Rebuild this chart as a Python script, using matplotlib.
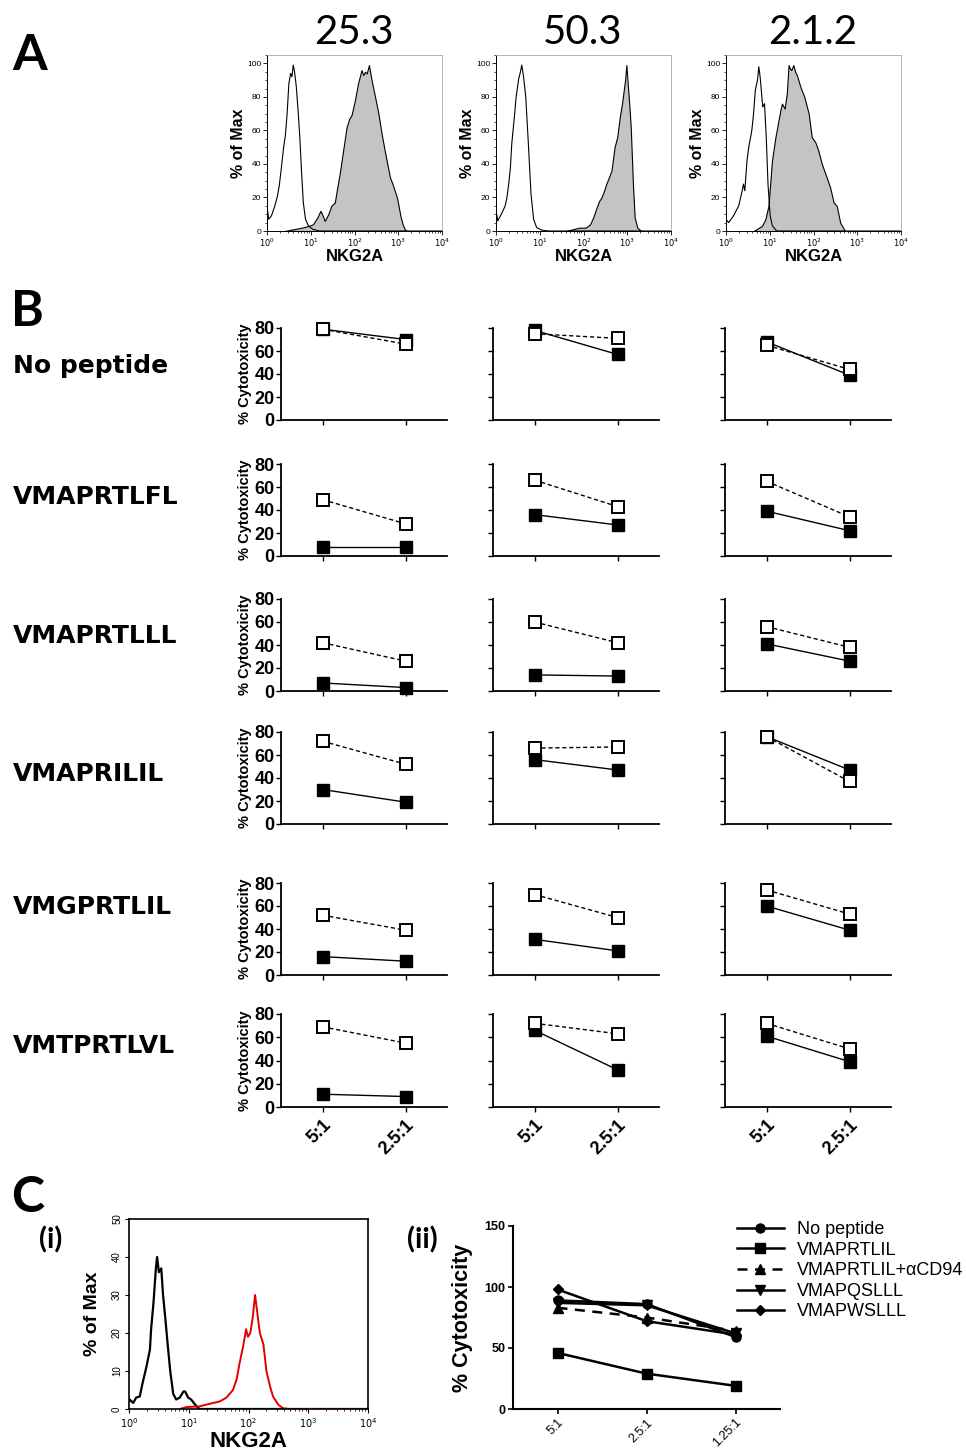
import numpy as np
import matplotlib.pyplot as plt
from matplotlib.ticker import LogLocator, NullFormatter, MultipleLocator

plt.rcParams['font.family'] = ['Liberation Sans', 'DejaVu Sans']

W, H = 966, 1450
fig = plt.figure(figsize=(9.66, 14.5), dpi=100)


def box(l, r, t, b):
    return fig.add_axes([l / W, 1 - b / H, (r - l) / W, (b - t) / H])


# ---------------- panel A: NKG2A histograms (log10 x, % of max) ----------------
a_titles = ['25.3', '50.3', '2.1.2']

a1_open_lx = [0.0, 0.005, 0.04, 0.1, 0.18, 0.24, 0.28, 0.33, 0.38, 0.42, 0.46, 0.5, 0.54, 0.57, 0.6,
              0.63, 0.67, 0.71, 0.75, 0.79, 0.83, 0.88, 0.95, 1.05, 1.2, 4.0]
a1_open_y = [22, 14, 7, 9, 15, 21, 27, 38, 50, 57, 70, 88, 94, 92, 99, 95, 86, 72, 56, 35, 17, 7, 3, 1, 0, 0]
a1_fill_lx = [0.4, 0.6, 0.8, 0.95, 1.05, 1.15, 1.22, 1.26, 1.32, 1.4, 1.47, 1.55, 1.6, 1.66, 1.74, 1.82,
              1.88, 1.93, 2.01, 2.08, 2.16, 2.2, 2.24, 2.28, 2.33, 2.39, 2.47, 2.54, 2.62, 2.69, 2.75,
              2.81, 2.87, 2.92, 2.97, 3.0, 3.05, 3.1, 3.15, 3.2]
a1_fill_y = [0, 1, 2, 3, 4, 8, 12, 10, 6, 10, 15, 17, 25, 34, 48, 62, 67, 69, 78, 88, 96, 93, 95, 94, 99,
             90, 80, 71, 58, 48, 40, 32, 28, 24, 20, 16, 9, 4, 1, 0]

a2_open_lx = [0.0, 0.005, 0.04, 0.1, 0.14, 0.21, 0.25, 0.29, 0.33, 0.36, 0.42, 0.46, 0.52, 0.55, 0.59,
              0.63, 0.68, 0.74, 0.8, 0.86, 0.93, 1.05, 1.2, 4.0]
a2_open_y = [20, 12, 6, 9, 11, 15, 20, 28, 38, 52, 68, 80, 91, 94, 99, 92, 80, 52, 22, 7, 2, 0.5, 0, 0]
a2_fill_lx = [1.6, 1.75, 1.9, 2.05, 2.15, 2.22, 2.3, 2.36, 2.41, 2.47, 2.52, 2.58, 2.64, 2.68, 2.71,
              2.77, 2.83, 2.88, 2.92, 2.95, 2.98, 3.01, 3.05, 3.08, 3.13, 3.17, 3.23, 3.32]
a2_fill_y = [0, 1, 2, 2, 4, 8, 14, 18, 20, 24, 28, 32, 36, 44, 50, 56, 68, 76, 84, 90, 99, 88, 74, 62,
             28, 8, 2, 0]

a3_open_lx = [0.0, 0.06, 0.17, 0.29, 0.37, 0.4, 0.43, 0.48, 0.52, 0.59, 0.63, 0.67, 0.72, 0.75, 0.78,
              0.8, 0.84, 0.88, 0.92, 0.96, 1.01, 1.06, 1.16, 4.0]
a3_open_y = [7, 5, 9, 15, 24, 28, 24, 42, 50, 60, 70, 84, 90, 98, 92, 86, 74, 76, 56, 28, 9, 3, 0, 0]
a3_fill_lx = [0.63, 0.82, 0.9, 0.97, 1.01, 1.05, 1.13, 1.2, 1.25, 1.28, 1.34, 1.39, 1.43, 1.46, 1.49,
              1.54, 1.58, 1.62, 1.7, 1.79, 1.89, 1.96, 2.04, 2.11, 2.19, 2.3, 2.38, 2.46, 2.53, 2.57,
              2.61, 2.72]
a3_fill_y = [0, 3, 7, 15, 28, 42, 56, 66, 73, 76, 73, 82, 99, 97, 96, 99, 95, 93, 86, 80, 70, 56, 53,
             48, 40, 32, 26, 17, 15, 10, 5, 0]

a_curves = [(a1_open_lx, a1_open_y, a1_fill_lx, a1_fill_y),
            (a2_open_lx, a2_open_y, a2_fill_lx, a2_fill_y),
            (a3_open_lx, a3_open_y, a3_fill_lx, a3_fill_y)]
a_lefts = [267, 496, 726]

for l, title, (olx, oy, flx, fy) in zip(a_lefts, a_titles, a_curves):
    ax = box(l, l + 175, 55, 231)
    ax.fill_between(10 ** np.array(flx), fy, color='#c4c4c4', edgecolor='black', lw=0.8)
    ax.plot(10 ** np.array(olx), oy, color='black', lw=0.8)
    ax.set_xscale('log')
    ax.set_xlim(1, 1e4)
    ax.set_ylim(0, 105)
    ax.set_xticks([1, 10, 100, 1000, 10000])
    ax.set_xticklabels(['$10^{0}$', '$10^{1}$', '$10^{2}$', '$10^{3}$', '$10^{4}$'])
    ax.xaxis.set_minor_locator(LogLocator(base=10, subs=np.arange(2, 10)))
    ax.xaxis.set_minor_formatter(NullFormatter())
    ax.set_yticks([0, 20, 40, 60, 80, 100])
    ax.yaxis.set_minor_locator(MultipleLocator(5))
    ax.tick_params(which='major', direction='out', length=3, width=0.6, labelsize=6, pad=1)
    ax.tick_params(which='minor', direction='out', length=1.5, width=0.5)
    for s in ['top', 'right']:
        ax.spines[s].set_color('#a8a8a8')
        ax.spines[s].set_linewidth(0.6)
    for s in ['left', 'bottom']:
        ax.spines[s].set_linewidth(0.7)
    ax.set_ylabel('% of Max', fontweight='bold', fontsize=11.5, labelpad=1)
    ax.set_xlabel('NKG2A', fontweight='bold', fontsize=12, labelpad=0)
    fig.text((l + 87) / W, 1 - 32 / H, title, fontsize=29, family='Lato', ha='center', va='center')

# ---------------- panel B: cytotoxicity vs E:T ratio ----------------
b_ratios = ['5:1', '2.5:1']
b_peptides = ['No peptide', 'VMAPRTLFL', 'VMAPRTLLL', 'VMAPRILIL', 'VMGPRTLIL', 'VMTPRTLVL']
# [row][column] -> values at 5:1, 2.5:1
b_solid = [
    [[79, 70], [78, 57], [68, 39]],
    [[8, 8], [36, 27], [39, 22]],
    [[7, 3], [14, 13], [41, 26]],
    [[30, 19], [56, 47], [76, 47]],
    [[16, 12], [31, 21], [60, 39]],
    [[11, 9], [66, 32], [61, 39]],
]
b_open = [
    [[79, 66], [75, 71], [65, 44]],
    [[49, 28], [66, 43], [65, 34]],
    [[42, 26], [60, 42], [56, 38]],
    [[72, 52], [66, 67], [76, 37]],
    [[52, 39], [70, 50], [74, 53]],
    [[69, 55], [72, 63], [72, 50]],
]

b_rows = [(328, 420), (464, 556), (599, 691), (732, 824), (883, 975), (1014, 1107)]
b_lefts = [281, 493, 725]
b_label_y = [366, 497, 636, 774, 907, 1046]

for r, (t, b) in enumerate(b_rows):
    fig.text(13 / W, 1 - b_label_y[r] / H, b_peptides[r], fontsize=18, fontweight='bold',
             family='DejaVu Sans', va='center')
    for c, l in enumerate(b_lefts):
        ax = box(l, l + 166, t, b)
        xs = np.arange(len(b_ratios))
        ax.plot(xs, b_solid[r][c], color='black', lw=1.0, marker='s', ms=8.5,
                mfc='black', mec='black', clip_on=False, zorder=3)
        ax.plot(xs, b_open[r][c], color='black', lw=1.0, ls=(0, (3, 2)), marker='s', ms=8.5,
                mfc='white', mec='black', mew=1.4, clip_on=False, zorder=4)
        ax.set_xlim(-0.5, 1.5)
        ax.set_ylim(0, 80)
        ax.set_yticks([0, 20, 40, 60, 80])
        ax.set_xticks(xs)
        for s in ['top', 'right']:
            ax.spines[s].set_visible(False)
        for s in ['left', 'bottom']:
            ax.spines[s].set_linewidth(1.3)
        ax.tick_params(direction='out', length=3.5, width=1.0)
        if c == 0:
            ax.set_yticklabels(['0', '20', '40', '60', '80'], fontsize=13, fontweight='bold')
            ax.tick_params(axis='y', pad=1)
            ax.set_ylabel('% Cytotoxicity', fontsize=10.5, fontweight='bold', labelpad=2)
        else:
            ax.set_yticklabels([])
        if r == len(b_rows) - 1:
            ax.set_xticklabels(b_ratios, rotation=45, ha='right', rotation_mode='anchor',
                               fontsize=13, fontweight='bold')
        else:
            ax.set_xticklabels([])

# ---------------- panel C(i): histogram ----------------
ci_black_lx = [0.0, 0.01, 0.07, 0.12, 0.18, 0.23, 0.29, 0.35, 0.37, 0.41, 0.45, 0.47, 0.5, 0.54, 0.57,
               0.61, 0.65, 0.69, 0.74, 0.79, 0.85, 0.91, 0.94, 0.99, 1.04, 1.13, 1.18, 4.0]
ci_black_y = [2, 2.5, 1.6, 3, 3.3, 7, 11, 15.6, 21, 28, 37, 40, 36, 37, 30, 23.5, 16.5, 10, 4, 2.5, 3,
              4.6, 4.6, 3, 2.5, 0.7, 0, 0]
ci_red_lx = [0.85, 0.96, 1.18, 1.41, 1.52, 1.63, 1.74, 1.8, 1.85, 1.91, 1.96, 1.99, 2.03, 2.07, 2.11,
             2.15, 2.19, 2.25, 2.3, 2.36, 2.41, 2.5, 2.58, 2.69, 3.95]
ci_red_y = [0, 0.5, 0.7, 1.6, 2, 3, 5, 7.7, 12, 16.5, 21, 19, 20, 24, 30, 25, 20, 17, 10, 6, 3.3, 1.1,
            0.2, 0, 0]

ax = box(129, 368, 1219, 1409)
ax.plot(10 ** np.array(ci_black_lx), ci_black_y, color='black', lw=1.6)
ax.plot(10 ** np.array(ci_red_lx), ci_red_y, color='#e00000', lw=1.4)
ax.set_xscale('log')
ax.set_xlim(1, 1e4)
ax.set_ylim(0, 50)
ax.set_xticks([1, 10, 100, 1000, 10000])
ax.set_xticklabels(['$10^{0}$', '$10^{1}$', '$10^{2}$', '$10^{3}$', '$10^{4}$'])
ax.xaxis.set_minor_locator(LogLocator(base=10, subs=np.arange(2, 10)))
ax.xaxis.set_minor_formatter(NullFormatter())
ax.set_yticks([0, 10, 20, 30, 40, 50])
ax.set_yticklabels(['0', '10', '20', '30', '40', '50'], rotation=90, va='center')
ax.tick_params(which='major', direction='out', length=3, width=0.8, labelsize=7, pad=2)
ax.tick_params(which='minor', direction='out', length=1.5, width=0.6)
for s in ax.spines.values():
    s.set_linewidth(1.2)
ax.set_ylabel('% of Max', fontweight='bold', fontsize=14, labelpad=8)
ax.set_xlabel('NKG2A', fontweight='bold', fontsize=16, labelpad=1)

# ---------------- panel C(ii): cytotoxicity ----------------
c_ratios = ['5:1', '2.5:1', '1.25:1']
c_no_peptide = [89, 86, 59]
c_vmaprtlil = [46, 29, 19]
c_vmaprtlil_cd94 = [83, 75, 64]
c_vmapqslll = [87, 85, 62]
c_vmapwslll = [98, 72, 61]

ax = box(513, 780, 1226, 1409)
xs = np.arange(len(c_ratios))
ax.plot(xs, c_no_peptide, color='black', lw=1.8, marker='o', ms=6.5, label='No peptide')
ax.plot(xs, c_vmaprtlil, color='black', lw=1.8, marker='s', ms=6.5, label='VMAPRTLIL')
ax.plot(xs, c_vmaprtlil_cd94, color='black', lw=1.8, ls=(0, (4, 3)), marker='^', ms=7,
        label='VMAPRTLIL+αCD94')
ax.plot(xs, c_vmapqslll, color='black', lw=1.8, marker='v', ms=7, label='VMAPQSLLL')
ax.plot(xs, c_vmapwslll, color='black', lw=1.8, marker='D', ms=5, label='VMAPWSLLL')
ax.set_xlim(-0.5, 2.5)
ax.set_ylim(0, 150)
ax.set_yticks([0, 50, 100, 150])
ax.set_yticklabels(['0', '50', '100', '150'], fontsize=9, fontweight='bold')
ax.set_xticks(xs)
ax.set_xticklabels(c_ratios, rotation=45, ha='right', rotation_mode='anchor', fontsize=9)
for s in ['top', 'right']:
    ax.spines[s].set_visible(False)
for s in ['left', 'bottom']:
    ax.spines[s].set_linewidth(1.5)
ax.tick_params(direction='out', length=3.5, width=1.2, pad=2)
ax.set_ylabel('% Cytotoxicity', fontsize=15.5, fontweight='bold', labelpad=8)
fig.legend(loc='upper left', bbox_to_anchor=(737 / W, 1 - 1221 / H), frameon=False, fontsize=13,
           handlelength=2.6, handletextpad=0.7, labelspacing=0.2, borderpad=0, borderaxespad=0)

# ---------------- panel letters ----------------
for txt, x, y, fs in [('A', 12, 56, 36), ('B', 11, 312, 36), ('C', 11, 1197, 36),
                      ('(i)', 39, 1240, 21), ('(ii)', 407, 1240, 21)]:
    fig.text(x / W, 1 - y / H, txt, fontsize=fs, fontweight='bold', family='Lato', va='center')

fig.savefig('out.png', dpi=100)
